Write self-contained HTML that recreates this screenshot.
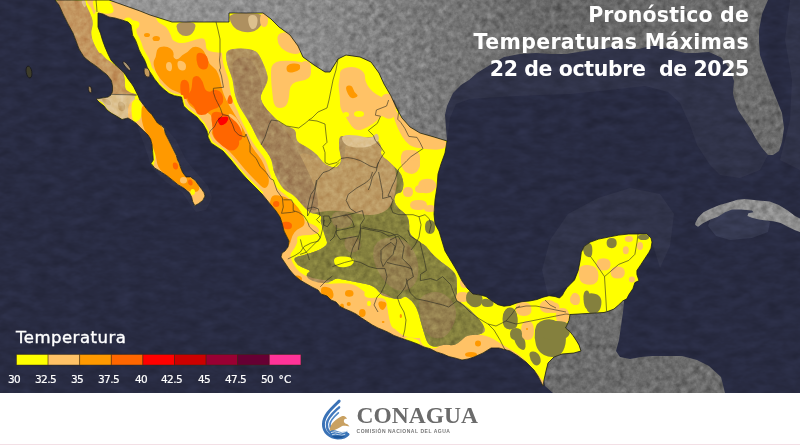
<!DOCTYPE html>
<html><head><meta charset="utf-8">
<style>
html,body{margin:0;padding:0;}
body{width:800px;height:445px;overflow:hidden;position:relative;background:#fff;font-family:"Liberation Sans",sans-serif;}
#map{position:absolute;left:0;top:0;width:800px;height:393px;display:block;}
.t{position:absolute;right:51px;color:#fff;font-family:"DejaVu Sans",sans-serif;font-weight:bold;font-size:20.5px;line-height:24px;white-space:pre;text-align:right;}
.leg-t{position:absolute;left:16px;top:328.4px;color:#fff;font-family:"DejaVu Sans",sans-serif;font-size:16.5px;line-height:19px;letter-spacing:0.5px;white-space:pre;-webkit-text-stroke:0.4px #fff;}
.lab{position:absolute;top:372.5px;color:#fff;font-family:"DejaVu Sans",sans-serif;font-size:10.5px;line-height:12px;letter-spacing:-0.6px;white-space:pre;-webkit-text-stroke:0.2px #fff;}
#foot{position:absolute;left:0;top:393px;width:800px;height:52px;background:#fff;}
#pink{position:absolute;left:0;top:444px;width:800px;height:1px;background:#f3dfe5;}
.cona{position:absolute;left:356.5px;top:401.5px;color:#6b6b6b;font-family:"Liberation Serif",serif;font-weight:bold;font-size:23.5px;letter-spacing:0px;white-space:pre;}
#logo{position:absolute;left:318px;top:398px;width:35px;height:44px;}
.com{position:absolute;left:356.5px;top:428px;color:#777;font-family:"Liberation Sans",sans-serif;font-weight:bold;font-size:5px;letter-spacing:0.53px;white-space:pre;}
</style></head><body>
<svg id="map" width="800" height="393" viewBox="0 0 800 393">
<defs>
<clipPath id="mx"><path id="mxp" d="M55,0 L109,0 L140,11 L150,15 L172,22 L229,22 L229,13 L263,13 L271,19 L279,27 L290,35 L298,46 L303,57 L314,65 L325,72 L330,72 L338,59 L346,55 L360,57 L371,62 L379,73 L384,84 L391,96 L396,107 L402,118 L410,127 L420,133 L434,137 L447,141 L445,153 L441,164 L438,174 L437,187 L435,200 L434,214 L435,224 L439,231 L442,241 L445,251 L451,261 L457,271 L462,281 L467,288 L473,294 L480,295 L486,296.5 L492,301 L498,304.7 L504,306.2 L510,305.5 L516,303.2 L522,301.7 L529.5,301 L537,299.5 L543,297.2 L549,295.7 L555,296.5 L559.5,298 L562.5,295 L564,292 L567,287.5 L570,284.5 L574.5,280 L578.2,270.5 L580.2,260.4 L581.3,252.3 L584.3,246.2 L590.4,242.1 L598.5,239.1 L608.6,237.1 L618.7,235.1 L628.8,234 L639,234 L647,234 L651,238.1 L652,242.1 L651,248.2 L649,252.3 L645,258.3 L641,264.4 L636.9,270.5 L636.9,274.5 L639,280.6 L634.9,282.6 L632.9,288.7 L628.8,294.8 L626.8,298.8 L622.8,300.9 L618.7,304.9 L614,309 L609,311 L604,312.5 L570,314.5 L569,320.5 L567,325 L565.5,328 L570,331.7 L573,335.5 L576,340 L579,345 L581,351 L574,353 L562,354 L554,357 L548,363 L546,371 L544,380 L543,386 L538,376 L534,370 L526,362 L518,356 L510,351 L499,348 L491,348 L483,353 L474,357 L468,359 L462,360 L455,358 L449,356.6 L443,354 L436.6,352 L430,348.7 L424,347 L417.7,344 L411,341.5 L405,339.5 L399.4,337.5 L394,335.5 L388.6,332.5 L383,330 L378,328 L372.4,325 L367,321.5 L361.6,318 L356,314 L351,311.5 L345,309 L340,306.5 L336,302 L331,300 L327,296 L321,294 L318,290 L312,287 L305,283 L300,280 L294,275 L289,269 L285,263 L281,257 L282,253 L285,251 L288,247 L289,241 L287,237 L284,231 L282,223 L280,217 L276,211 L271,205 L262,194 L254,186 L246,178 L239,170 L231,160 L223,151 L211,143 L208,137 L207,131 L203,124 L199.4,120 L197.2,117.2 L192.7,113.8 L188.2,110.4 L183.7,106 L182.6,101.5 L181.5,97 L174.7,95.8 L169.1,93.6 L163.5,89.1 L159,84.6 L154.5,79 L151,73.4 L148,70 L146.2,64.1 L144.4,59.6 L141.7,55.2 L139,49.8 L137.2,44.4 L135.4,39.9 L132.7,35.4 L131.8,30 L131,25 L128,22 L122,20 L115,18 L109,17 L103,14 L98,13 L98,20 L98,27 L100.6,33.7 L102.6,40.5 L105,47 L108,54 L111,60 L115,64.6 L120,69 L123.7,72.5 L126,75.8 L128.2,79.2 L131.6,83.7 L133.8,87 L136,91.6 L138.3,96 L139.8,100 L143.9,105.4 L148,110.8 L152,114.8 L154.7,118.9 L157.4,123 L161.4,125.6 L164.1,128.3 L165.4,133.7 L168.1,139.1 L170.8,144.5 L173.5,149.9 L176.2,155.3 L177.6,160 L179.2,163 L180.3,166.7 L182.6,172.4 L186,176.9 L190.4,176.9 L195,180.2 L198.3,184.7 L201.7,189.2 L204,192.6 L205,196 L202.8,200.4 L198.3,203.8 L195,205.5 L194.4,205 L192.7,201.6 L191.6,197.1 L189.3,192.6 L183.7,188 L178,184.7 L172.5,180.2 L166.9,175.7 L160,171.2 L154.5,167.9 L151.1,163.4 L153.3,160 L152.6,151.2 L152,144.5 L150.6,139.1 L148,135 L143.9,131 L139.8,127 L135.8,122.9 L131.7,120.2 L128,118 L122,119.5 L118,117 L111,113 L107,110 L104,106 L99,102 L96,99 L102,98 L108,97 L111,95 L112.5,91.6 L112.5,86 L111.3,80.3 L106.9,74.7 L101.2,70.2 L95.6,65.7 L90,62 L84,57 L79,49 L76,41 L73,33 L68,24 L63,14 L59,5 Z"/></clipPath>
<clipPath id="terr"><path d="M226,55 Q226,50 233,49 Q240,48 248,49 Q256,50 259,55 Q262,60 264.5,66.5 Q267,73 267.5,76.5 Q268,80 266.5,83.5 Q265,87 262.5,91.5 Q260,96 261,99.5 Q262,103 264.5,106.5 Q267,110 270,113 Q273,116 275.5,118.5 Q278,121 281,123 Q284,125 288,126.5 Q292,128 294,129.4 Q296,130.8 296,136.2 Q296,141.6 301.5,144.3 Q307,147 312.4,151 Q317.8,155 320.4,159 Q323,163 325.8,164.4 Q328.6,165.9 332.6,167.2 Q336.7,168.6 339.4,164.6 Q342,160.5 340.5,155.2 Q339,150 339,143 Q339,136 342,136 Q345,136 353,137.5 Q361,139 367.7,137.5 Q374.4,136 378.4,141.5 Q382.5,147 381.2,151 Q380,155 384,157.8 Q388,160.5 392,164.6 Q396,168.6 398.7,171.3 Q401.4,174 402.7,179.4 Q404,184.8 402.7,188.9 Q401.4,192.9 398.7,192.9 Q396,192.9 394.6,196.9 Q393.3,201 396,205 Q398.7,209 402.8,211.7 Q406.8,214.4 408.1,218.4 Q409.5,222.5 409.2,227.8 Q409,233 412,236 Q415,239 418,241 Q421,243 423.7,244.6 Q426.4,246.2 428.4,249.2 Q430.5,252.3 433.6,255.3 Q436.6,258.3 440.6,261.4 Q444.7,264.4 448.8,267.4 Q452.8,270.5 454.8,273.6 Q456.8,276.6 456.8,281.6 Q456.8,286.7 456.8,291.8 Q456.8,296.8 458.9,299.9 Q460.9,302.9 463.9,304.9 Q466.9,307 468.9,309 Q471,311 474,314 Q477,317 480,320.5 Q483,324 484.5,328 Q486,332 482,333.5 Q478,335 472.5,335 Q467,335 464.5,337.5 Q462,340 458,343 Q454,346 449.5,345 Q445,344 440,345.8 Q435,347.5 431.2,345.8 Q427.5,344 425.8,338.5 Q424,333 422,326 Q420,319 418.5,313.5 Q417,308 414,304 Q411,300 408,298 Q405,296 403,297.5 Q401,299 398,299 Q395,299 391,298 Q387,297 384,296 Q381,295 379,292 Q377,289 374,287 Q371,285 365.9,284 Q360.7,283 355.6,282 Q350.6,281 345.6,280 Q340.5,279 338.2,278.5 Q336,278 332.5,280.5 Q329,283 323.5,283 Q318,283 313,281 Q308,279 307,276.5 Q306,274 308.5,272.5 Q311,271 308.5,270 Q306,269 301.5,267 Q297,265 295.2,261.5 Q293.4,258 296.1,257.2 Q298.8,256.4 302.4,255.5 Q306,254.6 311.4,252.8 Q316.8,251 320.4,249.2 Q324,247.4 325.8,245.6 Q327.6,243.8 326.7,241.1 Q325.8,238.4 324.9,235.7 Q324,233 323,229.4 Q322,225.8 321.2,223.1 Q320.4,220.4 321.2,218.6 Q322,216.7 319.5,215.1 Q317,213.6 314,213.6 Q311,213.6 308.5,211.3 Q306,209 303.7,206.5 Q301.4,204 299.0,200.9 Q296.7,197.9 293.5,195.4 Q290.4,193 287.2,191.5 Q284,190 281,185.5 Q278,181 275.5,175.5 Q273,170 272.5,165 Q272,160 269.5,156 Q267,152 264.5,149 Q262,146 259.5,142 Q257,138 255,133.5 Q253,129 250.5,124.5 Q248,120 245,115.5 Q242,111 239.5,106.5 Q237,102 235.5,96.5 Q234,91 233.5,85.5 Q233,80 231,75 Q229,70 227.5,65 Q226,60 226,55 Z"/></clipPath>
<clipPath id="tex2"><path d="M226,55 Q226,50 233,49 Q240,48 248,49 Q256,50 259,55 Q262,60 264.5,66.5 Q267,73 267.5,76.5 Q268,80 266.5,83.5 Q265,87 262.5,91.5 Q260,96 261,99.5 Q262,103 264.5,106.5 Q267,110 270,113 Q273,116 275.5,118.5 Q278,121 281,123 Q284,125 288,126.5 Q292,128 294,129.4 Q296,130.8 296,136.2 Q296,141.6 301.5,144.3 Q307,147 312.4,151 Q317.8,155 320.4,159 Q323,163 325.8,164.4 Q328.6,165.9 332.6,167.2 Q336.7,168.6 339.4,164.6 Q342,160.5 340.5,155.2 Q339,150 339,143 Q339,136 342,136 Q345,136 353,137.5 Q361,139 367.7,137.5 Q374.4,136 378.4,141.5 Q382.5,147 381.2,151 Q380,155 384,157.8 Q388,160.5 392,164.6 Q396,168.6 398.7,171.3 Q401.4,174 402.7,179.4 Q404,184.8 402.7,188.9 Q401.4,192.9 398.7,192.9 Q396,192.9 394.6,196.9 Q393.3,201 396,205 Q398.7,209 402.8,211.7 Q406.8,214.4 408.1,218.4 Q409.5,222.5 409.2,227.8 Q409,233 412,236 Q415,239 418,241 Q421,243 423.7,244.6 Q426.4,246.2 428.4,249.2 Q430.5,252.3 433.6,255.3 Q436.6,258.3 440.6,261.4 Q444.7,264.4 448.8,267.4 Q452.8,270.5 454.8,273.6 Q456.8,276.6 456.8,281.6 Q456.8,286.7 456.8,291.8 Q456.8,296.8 458.9,299.9 Q460.9,302.9 463.9,304.9 Q466.9,307 468.9,309 Q471,311 474,314 Q477,317 480,320.5 Q483,324 484.5,328 Q486,332 482,333.5 Q478,335 472.5,335 Q467,335 464.5,337.5 Q462,340 458,343 Q454,346 449.5,345 Q445,344 440,345.8 Q435,347.5 431.2,345.8 Q427.5,344 425.8,338.5 Q424,333 422,326 Q420,319 418.5,313.5 Q417,308 414,304 Q411,300 408,298 Q405,296 403,297.5 Q401,299 398,299 Q395,299 391,298 Q387,297 384,296 Q381,295 379,292 Q377,289 374,287 Q371,285 365.9,284 Q360.7,283 355.6,282 Q350.6,281 345.6,280 Q340.5,279 338.2,278.5 Q336,278 332.5,280.5 Q329,283 323.5,283 Q318,283 313,281 Q308,279 307,276.5 Q306,274 308.5,272.5 Q311,271 308.5,270 Q306,269 301.5,267 Q297,265 295.2,261.5 Q293.4,258 296.1,257.2 Q298.8,256.4 302.4,255.5 Q306,254.6 311.4,252.8 Q316.8,251 320.4,249.2 Q324,247.4 325.8,245.6 Q327.6,243.8 326.7,241.1 Q325.8,238.4 324.9,235.7 Q324,233 323,229.4 Q322,225.8 321.2,223.1 Q320.4,220.4 321.2,218.6 Q322,216.7 319.5,215.1 Q317,213.6 314,213.6 Q311,213.6 308.5,211.3 Q306,209 303.7,206.5 Q301.4,204 299.0,200.9 Q296.7,197.9 293.5,195.4 Q290.4,193 287.2,191.5 Q284,190 281,185.5 Q278,181 275.5,175.5 Q273,170 272.5,165 Q272,160 269.5,156 Q267,152 264.5,149 Q262,146 259.5,142 Q257,138 255,133.5 Q253,129 250.5,124.5 Q248,120 245,115.5 Q242,111 239.5,106.5 Q237,102 235.5,96.5 Q234,91 233.5,85.5 Q233,80 231,75 Q229,70 227.5,65 Q226,60 226,55 Z"/><path d="M40,0 L84,0 L86,5 L89,11 L92,18 L93,24 L91,32 L92,39 L95,46 L99,53 L101,53 L106,59 L111,62 L117,67 L123,71 L124,76 L125,80 L125,87 L126,90 L131,93 L136,94 L136,96 L40,96 Z"/><path d="M90,94 L136,94 L134,100 L133,108 L131,118 L126,121 L115,115 L106,108 L103,102 L95,99 Z"/></clipPath>
<clipPath id="gland"><path d="M109,0 L140,11 L150,15 L172,22 L229,22 L229,13 L263,13 L271,19 L279,27 L290,35 L298,46 L303,57 L314,65 L325,72 L330,72 L338,59 L346,55 L360,57 L371,62 L379,73 L384,84 L391,96 L396,107 L402,118 L410,127 L420,133 L434,137 L447,141 L446,128 L445,115 L447,106 L453,93 L461,85 L469,80 L477,73 L490,65 L504,57 L520,54 L536,53 L552,54 L566,54 L585,51 L601,49 L612,47 L625,49 L639,49 L650,46 L658,46 L673,50 L685,53 L695,53 L709,52 L721,57.5 L730,69 L734,81 L733,93 L734,98 L738,110 L744,119 L750,128 L756,139 L762,148 L768,155 L773,155 L779,151 L782,142 L784,128 L782,113 L776,98 L770.5,84 L765,69 L760,55 L759,42 L759,30 L762,14 L768,0 Z"/><path d="M695.3,223.1 L698,217.7 L703.4,212.3 L710.5,208.7 L719.5,205.1 L728.5,202.5 L737.5,199.8 L744.7,198.9 L751.9,199.8 L760.8,200.7 L769.8,201.6 L778.8,205.1 L787.8,210.5 L795,216 L800,218.6 L800,232 L795,230.3 L787.8,226.7 L780.6,223.1 L773.4,221.3 L766.2,220.4 L759,219.5 L751.9,217.7 L747.4,215.9 L748.3,213.2 L753.6,212.3 L751.9,210.5 L741,209.6 L732,209.6 L725,212.3 L717.7,216.8 L710.5,219.5 L703.4,223.1 L698,226.7 L695.3,224.9 Z"/><path d="M604,312.5 L609,311 L614,309 L618.7,304.9 L622.8,300.9 L624,301 L623,312 L621,326 L619,340 L616,351 L620,357 L630,359 L641,357 L652,356 L660,356 L682,356 L697,360 L709,366 L721,377 L725,393 L553,393 L545,386 L544,380 L546,371 L548,363 L554,357 L562,354 L574,353 L581,351 L579,344 L576,340 L573,335.5 L570,331.7 L565.5,328 L567,325 L569,320.5 L570,314.5 Z"/></clipPath>
<filter id="noise" x="0" y="0" width="800" height="393" filterUnits="userSpaceOnUse" color-interpolation-filters="sRGB">
<feTurbulence type="fractalNoise" baseFrequency="0.16" numOctaves="3" seed="7" result="t"/>
<feColorMatrix in="t" type="matrix" values="0.33 0.33 0.33 0 0  0.33 0.33 0.33 0 0  0.33 0.33 0.33 0 0  0 0 0 0 1"/>
</filter>
<filter id="noise2" x="0" y="0" width="800" height="393" filterUnits="userSpaceOnUse" color-interpolation-filters="sRGB">
<feTurbulence type="fractalNoise" baseFrequency="0.06 0.12" numOctaves="3" seed="11" result="t"/>
<feColorMatrix in="t" type="matrix" values="0.33 0.33 0.33 0 0  0.33 0.33 0.33 0 0  0.33 0.33 0.33 0 0  0 0 0 0 1"/>
</filter>
</defs>
<rect x="0" y="0" width="800" height="393" fill="#282b42"/>

<g fill="#303349">
<path d="M447,141 L446,128 L445,115 L447,106 L453,93 L461,85 L469,80 L477,73 L490,65 L504,57 L520,54 L536,53 L552,54 L566,54 L585,51 L601,49 L612,47 L625,49 L639,49 L650,46 L658,46 L673,50 L685,53 L695,53 L709,52 L721,58 L730,69 L734,81 L733,93 L734,98 L738,110 L744,119 L750,128 L756,139 L762,148 L768,155 L760,170 L740,178 L720,175 L710,165 L697,145 L690,125 L680,103 L668,92 L645,86 L610,90 L570,94 L540,95 L500,97 L470,99 L456,104 L450,118 Z"/>
<path d="M548,296 L542,270 L550,240 L568,214 L598,198 L630,188 L660,194 L674,214 L670,246 L660,268 L652,242 L647,234 L620,235 L590,242 L581,252 L578,270 L570,285 Z"/>
<path d="M780,160 L790,120 L792,80 L785,40 L790,0 L800,0 L800,170 Z"/>
</g>
<path fill="#2e3148" d="M138,128 L146,150 L152,168 L166,182 L182,192 L190,204 L196,212 L206,210 L212,198 L208,186 L196,172 L186,160 L176,140 L164,126 L150,118 Z"/>
<path fill="#363a52" d="M712,214 L730,208 L750,209 L756,214 L770,222 L768,232 L752,238 L730,240 L716,236 L708,226 Z"/>

<rect x="0" y="0" width="800" height="393" filter="url(#noise2)" style="mix-blend-mode:overlay" opacity="0.3"/>
<linearGradient id="usg" x1="100" y1="0" x2="800" y2="0" gradientUnits="userSpaceOnUse"><stop offset="0" stop-color="#999999"/><stop offset="0.3" stop-color="#8a8a8a"/><stop offset="0.5" stop-color="#777777"/><stop offset="0.65" stop-color="#676767"/><stop offset="1" stop-color="#6c6c6c"/></linearGradient>
<path id="us" fill="url(#usg)" d="M109,0 L140,11 L150,15 L172,22 L229,22 L229,13 L263,13 L271,19 L279,27 L290,35 L298,46 L303,57 L314,65 L325,72 L330,72 L338,59 L346,55 L360,57 L371,62 L379,73 L384,84 L391,96 L396,107 L402,118 L410,127 L420,133 L434,137 L447,141 L446,128 L445,115 L447,106 L453,93 L461,85 L469,80 L477,73 L490,65 L504,57 L520,54 L536,53 L552,54 L566,54 L585,51 L601,49 L612,47 L625,49 L639,49 L650,46 L658,46 L673,50 L685,53 L695,53 L709,52 L721,57.5 L730,69 L734,81 L733,93 L734,98 L738,110 L744,119 L750,128 L756,139 L762,148 L768,155 L773,155 L779,151 L782,142 L784,128 L782,113 L776,98 L770.5,84 L765,69 L760,55 L759,42 L759,30 L762,14 L768,0 Z"/>
<path fill="#8e8e8e" d="M695.3,223.1 L698,217.7 L703.4,212.3 L710.5,208.7 L719.5,205.1 L728.5,202.5 L737.5,199.8 L744.7,198.9 L751.9,199.8 L760.8,200.7 L769.8,201.6 L778.8,205.1 L787.8,210.5 L795,216 L800,218.6 L800,232 L795,230.3 L787.8,226.7 L780.6,223.1 L773.4,221.3 L766.2,220.4 L759,219.5 L751.9,217.7 L747.4,215.9 L748.3,213.2 L753.6,212.3 L751.9,210.5 L741,209.6 L732,209.6 L725,212.3 L717.7,216.8 L710.5,219.5 L703.4,223.1 L698,226.7 L695.3,224.9 Z"/>
<path fill="#6c6c6c" d="M604,312.5 L609,311 L614,309 L618.7,304.9 L622.8,300.9 L624,301 L623,312 L621,326 L619,340 L616,351 L620,357 L630,359 L641,357 L652,356 L660,356 L682,356 L697,360 L709,366 L721,377 L725,393 L553,393 L545,386 L544,380 L546,371 L548,363 L554,357 L562,354 L574,353 L581,351 L579,344 L576,340 L573,335.5 L570,331.7 L565.5,328 L567,325 L569,320.5 L570,314.5 Z"/>

<rect x="0" y="0" width="800" height="393" filter="url(#noise)" clip-path="url(#gland)" style="mix-blend-mode:overlay" opacity="0.55"/>
<use href="#mxp" fill="#ffff00"/>
<g clip-path="url(#mx)">
<path fill="#c39660" d="M40,48 Q40,0 62,0 Q84,0 85,2.5 Q86,5 87.5,8 Q89,11 90.5,14.5 Q92,18 92.5,21 Q93,24 92,28 Q91,32 91.5,35.5 Q92,39 93.5,42.5 Q95,46 97,49.5 Q99,53 100,53 Q101,53 103.5,56 Q106,59 108.5,60.5 Q111,62 114,64.5 Q117,67 120,69 Q123,71 123.5,73.5 Q124,76 124.5,78 Q125,80 125,83.5 Q125,87 125.5,88.5 Q126,90 128.5,91.5 Q131,93 133.5,93.5 Q136,94 136,95 Q136,96 88,96 Q40,96 40,48 Z"/>
<path fill="#dcc08e" d="M82,3 Q81,0 83.5,0 Q86,0 86,4 Q86,8 84.5,7 Q83,6 82,3 Z"/>
<path fill="#ffc266" d="M87,2 Q86,0 92,0 Q98,0 97.5,4 Q97,8 95.5,12 Q94,16 93,12.5 Q92,9 90,6.5 Q88,4 87,2 Z"/>
<path fill="#ffff00" d="M93.5,6 Q92,0 94.5,0 Q97,0 97.5,4 Q98,8 96.5,10 Q95,12 93.5,6 Z"/>
<path fill="#dcc08e" d="M92.5,96.5 Q90,94 113,94 Q136,94 135,97 Q134,100 133.5,104 Q133,108 132.5,110.5 Q132,113 131.5,115.5 Q131,118 128.5,119.5 Q126,121 123,119.5 Q120,118 117.5,116.5 Q115,115 112.5,113.5 Q110,112 108,110 Q106,108 104.5,105 Q103,102 99,100.5 Q95,99 92.5,96.5 Z"/>
<path fill="#c8a874" d="M104,102.5 Q100,99 104,98.5 Q108,98 110,101 Q112,104 110,105 Q108,106 104,102.5 Z"/>
<path fill="#c8a874" d="M118,105 Q118,100 122,102 Q126,104 125,108 Q124,112 121,111 Q118,110 118,105 Z"/>
<path fill="#ffc266" d="M128,112.5 Q128,100 136.5,99 Q145,98 152.5,106.5 Q160,115 167.5,125 Q175,135 180,147.5 Q185,160 190,167.5 Q195,175 202.5,182.5 Q210,190 210,200 Q210,210 197.5,210 Q185,210 175,197.5 Q165,185 155,177.5 Q145,170 145,155 Q145,140 136.5,132.5 Q128,125 128,112.5 Z"/>
<path fill="#ffff00" d="M131.5,111 Q131,100 135.5,99.5 Q140,99 141,102.5 Q142,106 142,111 Q142,116 140,119 Q138,122 135,122 Q132,122 131.5,111 Z"/>
<path fill="#ffff00" d="M150.5,145 Q150,138 152,139 Q154,140 155,145 Q156,150 155.5,155 Q155,160 154,164 Q153,168 151,166 Q149,164 150,158 Q151,152 150.5,145 Z"/>
<path fill="#ff9900" d="M141.5,110 Q142,104 146,106 Q150,108 152.5,112 Q155,116 157.5,120 Q160,124 162,127 Q164,130 165.5,134 Q167,138 169,142 Q171,146 173,150 Q175,154 176.5,158 Q178,162 180,166 Q182,170 185,173 Q188,176 191.5,178.5 Q195,181 197.5,184 Q200,187 199,189.5 Q198,192 194,192 Q190,192 187,190 Q184,188 181,186 Q178,184 175,182 Q172,180 169,177.5 Q166,175 163,172.5 Q160,170 158.5,167 Q157,164 156.5,160 Q156,156 154.5,152 Q153,148 151.5,144 Q150,140 148,136.5 Q146,133 144.5,129.5 Q143,126 142,121 Q141,116 141.5,110 Z"/>
<path fill="#ff6600" d="M172.8,165.5 Q172.5,162 175.2,162.5 Q178,163 178,166.5 Q178,170 175.5,169.5 Q173,169 172.8,165.5 Z"/>
<path fill="#ff6600" d="M188,182 Q188,179 190.3,179.5 Q192.7,180 192.7,183 Q192.7,186 190.3,185.5 Q188,185 188,182 Z"/>
<path fill="#ffc266" d="M180,180.3 Q180,177 183.5,177 Q187,177 187,180.3 Q187,183.6 183.5,183.6 Q180,183.6 180,180.3 Z"/>
<path fill="#ffff00" d="M190.4,192 Q190.4,189 192.7,189 Q195,189 195,192 Q195,195 192.7,195 Q190.4,195 190.4,192 Z"/>
<path fill="#ffc266" d="M99,13 Q98,12 99,6 Q100,0 159,0 Q218,0 218,11 Q218,22 220,31 Q222,40 222,50 Q222,60 224,66 Q226,72 227.5,76 Q229,80 229.5,85.5 Q230,91 231.5,96.5 Q233,102 235.5,106.5 Q238,111 239.5,115.5 Q241,120 243.5,124.5 Q246,129 248,133.5 Q250,138 252.5,142 Q255,146 257.5,149 Q260,152 263,156 Q266,160 267.5,165 Q269,170 270.8,175.5 Q272.6,181 275.3,185.5 Q278,190 281.9,192.3 Q285.7,194.7 289.6,198.6 Q293.6,202.6 296.8,206.5 Q300,210.4 302.3,214.4 Q304.6,218.3 305.3,219.9 Q306,221.4 307.5,222.2 Q309,223 313,224.5 Q317,226 318.5,228.5 Q320,231 318.5,232.5 Q317,234 313,234.8 Q309,235.6 305.2,235.6 Q301.4,235.6 299.0,236.3 Q296.7,237 297.5,239.5 Q298.3,242 296.0,245.8 Q293.6,249.7 291.3,252.8 Q289,256 293.5,264 Q298,272 305,275.5 Q312,279 319.4,281.8 Q326.8,284.5 333.9,283.6 Q341,282.7 348.2,283.6 Q355.5,284.5 360.8,289 Q366,293.5 371,295.8 Q376,298 381,298 Q386,298 387,305 Q388,312 390,319 Q392,326 396,330 Q400,334 405,336 Q410,338 415,338 Q420,338 425.5,337.5 Q431,337 435.5,336.9 Q440,336.7 451.5,334.9 Q463,333 474.9,333.9 Q486.7,334.8 493.4,338.9 Q500,343 504,345.5 Q508,348 513,351 Q518,354 522.5,358 Q527,362 531.5,367 Q536,372 539,376 Q542,380 543.5,381.5 Q545,383 545,391.5 Q545,400 402.5,400 Q260,400 250,330 Q240,260 238,237.5 Q236,215 233.5,202.5 Q231,190 218.5,175 Q206,160 196,145 Q186,130 174.5,115 Q163,100 149.5,85 Q136,70 130,55 Q124,40 112,27 Q100,14 99,13 Z"/>
<path fill="#ffff00" d="M129,25 Q128,20 134,20.5 Q140,21 139.5,24.5 Q139,28 136.5,29 Q134,30 137,36 Q140,42 142,47 Q144,52 146,57 Q148,62 150,66 Q152,70 149.5,71 Q147,72 144.5,67 Q142,62 140,57 Q138,52 136,46 Q134,40 132,35 Q130,30 129,25 Z"/>
<path fill="#ffff00" d="M156.2,18.2 Q155,14 192.5,14 Q230,14 230,33.5 Q230,53 225.5,53 Q221,53 213.5,52 Q206,51 206,46.8 Q206,42.5 204.9,40 Q203.8,37.5 198.8,38.8 Q193.8,40 188.1,41.9 Q182.5,43.8 177.5,42.4 Q172.5,41 171.8,38 Q171,35 168.5,30.5 Q166,26 161.8,24.2 Q157.5,22.5 156.2,18.2 Z"/>
<path fill="#ffff00" d="M96,6 Q94,0 101,0 Q108,0 110.5,3 Q113,6 113.5,9.5 Q114,13 110,13.5 Q106,14 102,13 Q98,12 96,6 Z"/>
<path fill="#ae9060" d="M229.5,17.5 Q229,13 246,13 Q263,13 263,17.5 Q263,22 260.5,26 Q258,30 253,31.5 Q248,33 242,31.5 Q236,30 233,26 Q230,22 229.5,17.5 Z"/>
<path fill="#dcc08e" d="M248.5,22.5 Q247,15 252.5,15 Q258,15 257.5,21.5 Q257,28 253.5,29 Q250,30 248.5,22.5 Z"/>
<path fill="#ff9900" d="M152.5,38.5 Q152.5,36 156.2,36 Q160,36 160,38.5 Q160,41 156.2,41 Q152.5,41 152.5,38.5 Z"/>
<path fill="#ae9060" d="M176.5,26.5 Q176,22 186,22 Q196,22 195.5,26 Q195,30 192.5,33 Q190,36 186,36 Q182,36 179.5,33.5 Q177,31 176.5,26.5 Z"/>
<path fill="#ff9900" d="M156.5,52.5 Q157,48 160.5,47 Q164,46 167.5,47 Q171,48 172.5,50.5 Q174,53 173.5,55.5 Q173,58 175.5,59 Q178,60 180,57.5 Q182,55 185,53.5 Q188,52 190.5,49 Q193,46 197.5,47 Q202,48 204,51.5 Q206,55 207.5,59.5 Q209,64 212.5,66.5 Q216,69 218,73.5 Q220,78 221,84 Q222,90 224,95 Q226,100 229,105 Q232,110 235,115 Q238,120 241,125 Q244,130 246,135 Q248,140 251,145 Q254,150 258,155 Q262,160 264,165 Q266,170 268,176 Q270,182 267.5,186 Q265,190 261,186 Q257,182 253,178 Q249,174 245.5,170 Q242,166 238,161 Q234,156 230,152 Q226,148 220.5,144 Q215,140 213.5,137 Q212,134 211,131 Q210,128 208,124.5 Q206,121 204,119 Q202,117 199,113.5 Q196,110 193,108 Q190,106 188.5,103.5 Q187,101 186,98.5 Q185,96 181.5,94 Q178,92 175,91 Q172,90 169.5,88 Q167,86 165,84 Q163,82 160.5,79 Q158,76 156.5,73 Q155,70 154,66 Q153,62 154.5,59.5 Q156,57 156.5,52.5 Z"/>
<path fill="#ffc266" d="M177.5,65 Q177,60 181.5,61 Q186,62 186,66.5 Q186,71 182,70.5 Q178,70 177.5,65 Z"/>
<path fill="#ffc266" d="M166,66 Q166,62 169,62 Q172,62 172,67 Q172,72 169,71 Q166,70 166,66 Z"/>
<path fill="#ffc266" d="M199.5,123 Q196,112 204,112 Q212,112 213,123 Q214,134 208.5,134 Q203,134 199.5,123 Z"/>
<path fill="#ffc266" d="M231,123 Q226,112 231,114 Q236,116 240,124 Q244,132 240,133 Q236,134 231,123 Z"/>
<path fill="#ff6600" d="M196.5,56 Q197,52 201.5,53 Q206,54 207.5,58 Q209,62 208,66 Q207,70 203,69.5 Q199,69 197.5,64.5 Q196,60 196.5,56 Z"/>
<path fill="#ff6600" d="M180.3,89.2 Q179.6,79.5 184.6,79.8 Q189.5,80 189.5,89.5 Q189.5,99 185.2,99 Q181,99 180.3,89.2 Z"/>
<path fill="#ff6600" d="M192.4,80.1 Q192.7,76.7 195.5,76.2 Q198.3,75.6 200.6,78.4 Q202.8,81.2 203.9,85.7 Q205,90.2 207.5,91.3 Q210,92.5 212,90.8 Q214,89 218,90.5 Q222,92 223,97 Q224,102 221,105 Q218,108 214,109 Q210,110 208,112.5 Q206,115 201.5,115 Q197,115 196,111 Q195,107 191.5,104.2 Q188,101.5 187.5,98.7 Q187,95.8 189.3,93 Q191.6,90.2 191.8,86.8 Q192.1,83.5 192.4,80.1 Z"/>
<path fill="#ff6600" d="M211.4,115.8 Q211.8,111.7 216.9,111.8 Q222,112 227,115 Q232,118 236,122 Q240,126 242,133 Q244,140 238,141 Q232,142 227,141 Q222,140 218,136 Q214,132 212.5,126 Q211,120 211.4,115.8 Z"/>
<path fill="#ff6600" d="M212.5,126 Q213,116 221.5,119 Q230,122 234,128 Q238,134 239,140 Q240,146 236,149 Q232,152 227,149 Q222,146 217,141 Q212,136 212.5,126 Z"/>
<path fill="#ff6600" d="M228,98 Q230,92 232,98 Q234,104 230,104 Q226,104 228,98 Z"/>
<path fill="#ff0000" d="M218.3,122.2 Q216.7,118 220.3,117.3 Q224,116.6 226.5,116.8 Q229,117 228,120 Q227,123 223.5,124.8 Q220,126.5 218.3,122.2 Z"/>
<path fill="#ff9900" d="M144,35 Q144,33 147,33 Q150,33 150,35 Q150,37 147,37 Q144,37 144,35 Z"/>
<path fill="#ff9900" d="M153,39 Q153,37 156,37.5 Q159,38 159,39.5 Q159,41 156,41 Q153,41 153,39 Z"/>
<path fill="#ff9900" d="M270,204.8 Q270,196 274.7,195.3 Q279.4,194.7 284.9,197.1 Q290.4,199.4 294.4,203.4 Q298.3,207.3 301.5,212.8 Q304.6,218.3 304.6,222.2 Q304.6,226 300.6,227.7 Q296.7,229.3 294.4,232.4 Q292,235.6 291.2,239.6 Q290.4,243.5 288.9,245.8 Q287.3,248 285.0,245 Q282.6,242 281,237.2 Q279.4,232.4 277.0,226.9 Q274.7,221.4 272.4,217.5 Q270,213.6 270,204.8 Z"/>
<path fill="#ff6600" d="M282,225.2 Q281,221.4 286.5,221.7 Q292,222 292,225.7 Q292,229.3 287.5,229.2 Q283,229 282,225.2 Z"/>
<path fill="#ff6600" d="M273,204 Q273,201 276.2,201 Q279.4,201 279.4,204 Q279.4,207 276.2,207 Q273,207 273,204 Z"/>
<path fill="#ffff00" d="M317,225.5 Q309,223 313,224.5 Q317,226 318.5,228.5 Q320,231 318.5,232.5 Q317,234 313,234.8 Q309,235.6 305.2,235.6 Q301.4,235.6 299.0,236.3 Q296.7,237 297.5,239.5 Q298.3,242 296.0,245.8 Q293.6,249.7 296.8,249.8 Q300,250 305,248 Q310,246 315,244.5 Q320,243 324,242.5 Q328,242 326.5,235 Q325,228 317,225.5 Z"/>
<path fill="#ff9900" d="M345,293.4 Q345,290 349.2,290 Q353.5,290 353.5,293.4 Q353.5,296.7 349.2,296.7 Q345,296.7 345,293.4 Z"/>
<path fill="#ff9900" d="M340,306.2 Q340,303.5 342,303.5 Q344,303.5 344,306.2 Q344,309 342,309 Q340,309 340,306.2 Z"/>
<path fill="#ff9900" d="M346.7,304 Q346.7,302 348.8,302 Q350.8,302 350.8,304 Q350.8,306 348.8,306 Q346.7,306 346.7,304 Z"/>
<path fill="#ff9900" d="M359,313 Q359,309 362.3,309 Q365.6,309 365.6,313 Q365.6,317 362.3,317 Q359,317 359,313 Z"/>
<path fill="#ff9900" d="M379.2,306.9 Q376.4,300.8 382.5,301.4 Q388.6,302 385.3,307.5 Q382,313 379.2,306.9 Z"/>
<path fill="#ff9900" d="M381.8,322 Q381.8,321 383.1,321 Q384.5,321 384.5,322 Q384.5,323 383.1,323 Q381.8,323 381.8,322 Z"/>
<path fill="#ff9900" d="M399.4,316 Q399.4,314 400.7,314 Q402,314 402,316 Q402,318 400.7,318 Q399.4,318 399.4,316 Z"/>
<path fill="#ff9900" d="M321,292 Q320,286 326.5,287 Q333,288 333.5,294 Q334,300 328,299 Q322,298 321,292 Z"/>
<path fill="#ff9900" d="M294,278 Q294,275 298,275.5 Q302,276 302,279 Q302,282 298,281.5 Q294,281 294,278 Z"/>
<path fill="#ff9900" d="M465,354.5 Q465,352 471,352 Q477,352 477,354.5 Q477,357 471,357 Q465,357 465,354.5 Z"/>
<path fill="#ff9900" d="M475,343.5 Q475,340.6 478,340.6 Q481,340.6 481,343.5 Q481,346.4 478,346.4 Q475,346.4 475,343.5 Z"/>
<path fill="#ffff00" d="M364.3,294 Q364.3,290 371.1,290 Q377.8,290 377.8,294 Q377.8,298 371.1,298 Q364.3,298 364.3,294 Z"/>
<path fill="#ffff00" d="M367,303.4 Q367,300.8 369,300.8 Q371,300.8 371,303.4 Q371,306 369,306 Q367,306 367,303.4 Z"/>
<path fill="#ffff00" d="M388,311.5 Q386,297 392.7,297 Q399.4,297 399.7,308.5 Q400,320 398,325 Q396,330 393,328 Q390,326 388,311.5 Z"/>
<path fill="#ffff00" d="M401,312 Q398,301 409,301 Q420,301 420,312 Q420,323 412,323 Q404,323 401,312 Z"/>
<path fill="#ffff00" d="M404.8,339 Q404.8,336 412.4,338 Q420,340 420,343 Q420,346 412.4,344 Q404.8,342 404.8,339 Z"/>
<path fill="#ffff00" d="M420,338 Q420,330 430,332 Q440,334 440,342 Q440,350 430,348 Q420,346 420,338 Z"/>
<path fill="#ffc266" d="M260,20 Q260,13 264,13 Q268,13 268,20 Q268,27 264,27 Q260,27 260,20 Z"/>
<path fill="#ffc266" d="M277.5,39.5 Q277,33 283.5,32.5 Q290,32 295.5,36 Q301,40 301.5,47 Q302,54 296,54 Q290,54 284,50 Q278,46 277.5,39.5 Z"/>
<path fill="#ffc266" d="M271,71 Q271,62 280.5,61 Q290,60 300.5,62 Q311,64 311,72 Q311,80 300.5,81 Q290,82 289.5,91 Q289,100 287,104 Q285,108 279.5,108 Q274,108 273,99 Q272,90 271.5,85 Q271,80 271,71 Z"/>
<path fill="#ff9900" d="M286.5,69 Q286,64 293,63.5 Q300,63 300.5,66.5 Q301,70 294,72 Q287,74 286.5,69 Z"/>
<path fill="#ffc266" d="M300,69 Q300,61 305.5,61 Q311,61 311,69 Q311,77 305.5,77 Q300,77 300,69 Z"/>
<path fill="#ffc266" d="M340,73 Q340,69 347,67.5 Q354,66 359.5,69 Q365,72 365,77 Q365,82 369,87.5 Q373,93 379.5,96 Q386,99 390,101.5 Q394,104 395.5,109.5 Q397,115 393,117.5 Q389,120 385,117.5 Q381,115 379.5,117.5 Q378,120 372.5,124 Q367,128 362,129.5 Q357,131 354,128.5 Q351,126 348.5,121.5 Q346,117 343,113 Q340,109 340,102.5 Q340,96 339,90.5 Q338,85 339,81 Q340,77 340,73 Z"/>
<path fill="#ffff00" d="M354,114 Q354,111 359,111 Q364,111 364,114 Q364,117 359,117 Q354,117 354,114 Z"/>
<path fill="#ffff00" d="M343,114.5 Q343,112 346,112 Q349,112 349,114.5 Q349,117 346,117 Q343,117 343,114.5 Z"/>
<path fill="#ff9900" d="M346.5,90.5 Q345,86 348.5,85.5 Q352,85 353,88.5 Q354,92 356.5,94 Q359,96 355.5,97.5 Q352,99 350,97 Q348,95 346.5,90.5 Z"/>
<path fill="#ffc266" d="M392.5,107.5 Q392,100 394,106 Q396,112 399,115 Q402,118 406,122.5 Q410,127 415,130 Q420,133 427,135 Q434,137 440.5,139 Q447,141 446.5,144 Q446,147 443,148.5 Q440,150 432.5,149.5 Q425,149 418.5,148 Q412,147 408.5,144 Q405,141 402.5,137 Q400,133 398,128.5 Q396,124 394.5,119.5 Q393,115 392.5,107.5 Z"/>
<path fill="#ffc266" d="M401,156 Q402,150 407,150 Q412,150 416,153 Q420,156 420,162 Q420,168 417,171.5 Q414,175 409,173.5 Q404,172 402,167 Q400,162 401,156 Z"/>
<path fill="#ffc266" d="M418,186 Q418,180 425,179 Q432,178 435,182 Q438,186 434,190 Q430,194 424,193 Q418,192 418,186 Z"/>
<path fill="#ffc266" d="M424,208.5 Q424,205 430,205 Q436,205 436,208.5 Q436,212 430,212 Q424,212 424,208.5 Z"/>
<path fill="#ae9060" d="M226,55 Q226,50 233,49 Q240,48 248,49 Q256,50 259,55 Q262,60 264.5,66.5 Q267,73 267.5,76.5 Q268,80 266.5,83.5 Q265,87 262.5,91.5 Q260,96 261,99.5 Q262,103 264.5,106.5 Q267,110 270,113 Q273,116 275.5,118.5 Q278,121 281,123 Q284,125 288,126.5 Q292,128 294,129.4 Q296,130.8 296,136.2 Q296,141.6 301.5,144.3 Q307,147 312.4,151 Q317.8,155 320.4,159 Q323,163 325.8,164.4 Q328.6,165.9 332.6,167.2 Q336.7,168.6 339.4,164.6 Q342,160.5 340.5,155.2 Q339,150 339,143 Q339,136 342,136 Q345,136 353,137.5 Q361,139 367.7,137.5 Q374.4,136 378.4,141.5 Q382.5,147 381.2,151 Q380,155 384,157.8 Q388,160.5 392,164.6 Q396,168.6 398.7,171.3 Q401.4,174 402.7,179.4 Q404,184.8 402.7,188.9 Q401.4,192.9 398.7,192.9 Q396,192.9 394.6,196.9 Q393.3,201 396,205 Q398.7,209 402.8,211.7 Q406.8,214.4 408.1,218.4 Q409.5,222.5 409.2,227.8 Q409,233 412,236 Q415,239 418,241 Q421,243 423.7,244.6 Q426.4,246.2 428.4,249.2 Q430.5,252.3 433.6,255.3 Q436.6,258.3 440.6,261.4 Q444.7,264.4 448.8,267.4 Q452.8,270.5 454.8,273.6 Q456.8,276.6 456.8,281.6 Q456.8,286.7 456.8,291.8 Q456.8,296.8 458.9,299.9 Q460.9,302.9 463.9,304.9 Q466.9,307 468.9,309 Q471,311 474,314 Q477,317 480,320.5 Q483,324 484.5,328 Q486,332 482,333.5 Q478,335 472.5,335 Q467,335 464.5,337.5 Q462,340 458,343 Q454,346 449.5,345 Q445,344 440,345.8 Q435,347.5 431.2,345.8 Q427.5,344 425.8,338.5 Q424,333 422,326 Q420,319 418.5,313.5 Q417,308 414,304 Q411,300 408,298 Q405,296 403,297.5 Q401,299 398,299 Q395,299 391,298 Q387,297 384,296 Q381,295 379,292 Q377,289 374,287 Q371,285 365.9,284 Q360.7,283 355.6,282 Q350.6,281 345.6,280 Q340.5,279 338.2,278.5 Q336,278 332.5,280.5 Q329,283 323.5,283 Q318,283 313,281 Q308,279 307,276.5 Q306,274 308.5,272.5 Q311,271 308.5,270 Q306,269 301.5,267 Q297,265 295.2,261.5 Q293.4,258 296.1,257.2 Q298.8,256.4 302.4,255.5 Q306,254.6 311.4,252.8 Q316.8,251 320.4,249.2 Q324,247.4 325.8,245.6 Q327.6,243.8 326.7,241.1 Q325.8,238.4 324.9,235.7 Q324,233 323,229.4 Q322,225.8 321.2,223.1 Q320.4,220.4 321.2,218.6 Q322,216.7 319.5,215.1 Q317,213.6 314,213.6 Q311,213.6 308.5,211.3 Q306,209 303.7,206.5 Q301.4,204 299.0,200.9 Q296.7,197.9 293.5,195.4 Q290.4,193 287.2,191.5 Q284,190 281,185.5 Q278,181 275.5,175.5 Q273,170 272.5,165 Q272,160 269.5,156 Q267,152 264.5,149 Q262,146 259.5,142 Q257,138 255,133.5 Q253,129 250.5,124.5 Q248,120 245,115.5 Q242,111 239.5,106.5 Q237,102 235.5,96.5 Q234,91 233.5,85.5 Q233,80 231,75 Q229,70 227.5,65 Q226,60 226,55 Z"/>
<path fill="#bc9a64" d="M295,160 Q300,150 310,155 Q320,160 328,165 Q336,170 340.5,165 Q345,160 345,150 Q345,140 360,139 Q375,138 378.5,144 Q382,150 387,157.5 Q392,165 397,171.5 Q402,178 402,185 Q402,192 398,196 Q394,200 397,206 Q400,212 404,217 Q408,222 409,229 Q410,236 395,236 Q380,236 365,238 Q350,240 340,237.5 Q330,235 328,228.5 Q326,222 322,218 Q318,214 312,211 Q306,208 303,204 Q300,200 296,195 Q292,190 291,180 Q290,170 295,160 Z" clip-path="url(#terr)"/>
<path fill="#a3835a" d="M232.5,67.5 Q232,60 241,57.5 Q250,55 256,67.5 Q262,80 262,90 Q262,100 268.5,110 Q275,120 282.5,127.5 Q290,135 295,145 Q300,155 305,165 Q310,175 314,185 Q318,195 318,203.5 Q318,212 311.5,210 Q305,208 298.5,200.5 Q292,193 286,186.5 Q280,180 276,170 Q272,160 267,153 Q262,146 257,137 Q252,128 247.5,119 Q243,110 239.5,101 Q236,92 234.5,83.5 Q233,75 232.5,67.5 Z" clip-path="url(#terr)"/>
<path fill="#dcc08e" d="M342.5,140.5 Q340,135 349,135 Q358,135 364.5,137 Q371,139 374,135.5 Q377,132 378.5,136 Q380,140 376,143 Q372,146 366,147 Q360,148 352.5,147 Q345,146 342.5,140.5 Z"/>
<path fill="#84803e" d="M284,232 Q286,214 298,214 Q310,214 320,212 Q330,210 340,211 Q350,212 360,214 Q370,216 378,214 Q386,212 390,206 Q394,200 396,189 Q398,178 395,169 Q392,160 401,160 Q410,160 415,180 Q420,200 430,220 Q440,240 455,270 Q470,300 480,315 Q490,330 475,340 Q460,350 440,350 Q420,350 410,325 Q400,300 385,294 Q370,288 355,285 Q340,282 320,279.5 Q300,277 291,263.5 Q282,250 284,232 Z" clip-path="url(#terr)"/>
<path fill="#94804f" d="M373.5,250 Q375,240 386.5,238 Q398,236 406,242 Q414,248 417,259 Q420,270 417,279 Q414,288 406,290 Q398,292 391,287 Q384,282 378,271 Q372,260 373.5,250 Z" clip-path="url(#terr)"/>
<path fill="#94804f" d="M419,306 Q418,296 429,293 Q440,290 448,297 Q456,304 456,313 Q456,322 450,331 Q444,340 435,338 Q426,336 423,326 Q420,316 419,306 Z" clip-path="url(#terr)"/>
<path fill="#94804f" d="M344.5,242 Q345,236 351.5,236 Q358,236 360,242 Q362,248 357,251 Q352,254 348,251 Q344,248 344.5,242 Z" clip-path="url(#terr)"/>
<path fill="#94804f" d="M332,221 Q330,212 340,211 Q350,210 352,218 Q354,226 344,228 Q334,230 332,221 Z" clip-path="url(#terr)"/>
<path fill="#94804f" d="M302,221 Q300,214 306,215 Q312,216 314,221 Q316,226 310,227 Q304,228 302,221 Z" clip-path="url(#terr)"/>
<path fill="#84803e" d="M466.5,295.5 Q467,291 471.5,290.5 Q476,290 479.5,293 Q483,296 482.5,301 Q482,306 477,307 Q472,308 469,304 Q466,300 466.5,295.5 Z"/>
<path fill="#84803e" d="M504.5,313 Q505,308 509.5,307.5 Q514,307 516,312.5 Q518,318 517.5,323.5 Q517,329 512.5,328.5 Q508,328 506,323 Q504,318 504.5,313 Z"/>
<path fill="#84803e" d="M513,333.5 Q513,329 516.5,329.5 Q520,330 523,336 Q526,342 525.5,346.5 Q525,351 521.5,349.5 Q518,348 515.5,343 Q513,338 513,333.5 Z"/>
<path fill="#84803e" d="M535,330 Q536,322 544,320 Q552,318 557.5,322 Q563,326 565,333 Q567,340 564.5,347.5 Q562,355 556,356.5 Q550,358 544,355 Q538,352 536,345 Q534,338 535,330 Z"/>
<path fill="#84803e" d="M529.5,355.5 Q529,351 533.5,351.5 Q538,352 540,357 Q542,362 539,364.5 Q536,367 533,363.5 Q530,360 529.5,355.5 Z"/>
<path fill="#84803e" d="M583.5,299.5 Q583,291 586.5,290.5 Q590,290 590,300 Q590,310 587,309 Q584,308 583.5,299.5 Z"/>
<path fill="#ffff00" d="M334,260.5 Q334,257 340,256.5 Q346,256 350.5,257.5 Q355,259 353.5,262.5 Q352,266 346,267 Q340,268 337,266 Q334,264 334,260.5 Z"/>
<path fill="#ffc266" d="M515.5,309 Q515,302 523,302 Q531,302 531.5,309 Q532,316 524,316 Q516,316 515.5,309 Z"/>
<path fill="#ffc266" d="M540,306.5 Q540,300 548,300 Q556,300 556,306.5 Q556,313 548,313 Q540,313 540,306.5 Z"/>
<path fill="#ffc266" d="M556,316 Q556,308 562.5,308 Q569,308 569,316 Q569,324 562.5,324 Q556,324 556,316 Z"/>
<path fill="#ffc266" d="M572,299.5 Q572,294 576,294 Q580,294 580,299.5 Q580,305 576,305 Q572,305 572,299.5 Z"/>
<path fill="#ffc266" d="M521,330.5 Q521,321 527.5,321 Q534,321 534,330.5 Q534,340 527.5,340 Q521,340 521,330.5 Z"/>
<path fill="#ffc266" d="M456,297 Q456,292 462.5,292 Q469,292 469,297 Q469,302 462.5,302 Q456,302 456,297 Z"/>
<path fill="#ffc266" d="M596.4,264.4 Q596.4,258.3 603.5,258.3 Q610.6,258.3 610.6,264.4 Q610.6,270.5 603.5,270.5 Q596.4,270.5 596.4,264.4 Z"/>
<path fill="#ffc266" d="M579,269.7 Q580,264.4 589.2,265.2 Q598.5,266 598.5,275.4 Q598.5,284.7 590.2,284.7 Q582,284.7 580,279.9 Q578,275 579,269.7 Z"/>
<path fill="#ffc266" d="M610.6,272.5 Q610.6,266.4 617.7,266.4 Q624.8,266.4 624.8,272.5 Q624.8,278.6 617.7,278.6 Q610.6,278.6 610.6,272.5 Z"/>
<path fill="#ffc266" d="M622.8,250.2 Q622.8,246.2 625.8,246.2 Q628.8,246.2 628.8,250.2 Q628.8,254.3 625.8,254.3 Q622.8,254.3 622.8,250.2 Z"/>
<path fill="#ffc266" d="M624.8,239 Q624.8,236 628.9,236 Q633,236 633,239 Q633,242 628.9,242 Q624.8,242 624.8,239 Z"/>
<path fill="#ffc266" d="M637,246 Q637,242 640,242 Q643,242 643,246 Q643,250 640,250 Q637,250 637,246 Z"/>
<path fill="#ffc266" d="M571,298.9 Q571,292.8 575,292.8 Q579,292.8 579,298.9 Q579,305 575,305 Q571,305 571,298.9 Z"/>
<path fill="#ffc266" d="M628.8,279.6 Q628.8,276.6 631.9,276.6 Q635,276.6 635,279.6 Q635,282.6 631.9,282.6 Q628.8,282.6 628.8,279.6 Z"/>
<path fill="#ffc266" d="M582,281.5 Q582,280 588,280 Q594,280 594,281.5 Q594,283 588,283 Q582,283 582,281.5 Z"/>
<path fill="#ffc266" d="M540,306.2 Q540,302.5 545.2,302.5 Q550.5,302.5 550.5,306.2 Q550.5,310 545.2,310 Q540,310 540,306.2 Z"/>
<path fill="#ffc266" d="M547.5,307.8 Q547.5,302.5 553.5,302.5 Q559.5,302.5 559.5,307.8 Q559.5,313 553.5,313 Q547.5,313 547.5,307.8 Z"/>
<path fill="#ffc266" d="M556.5,313 Q556.5,308.5 561.8,308.5 Q567,308.5 567,313 Q567,317.5 561.8,317.5 Q556.5,317.5 556.5,313 Z"/>
<path fill="#ffc266" d="M570,299.5 Q570,295 573.8,295 Q577.5,295 577.5,299.5 Q577.5,304 573.8,304 Q570,304 570,299.5 Z"/>
<path fill="#ffc266" d="M519,310.8 Q519,307 522,307 Q525,307 525,310.8 Q525,314.5 522,314.5 Q519,314.5 519,310.8 Z"/>
<path fill="#ffc266" d="M523.5,329.5 Q523.5,323.5 527.2,323.5 Q531,323.5 531,329.5 Q531,335.5 527.2,335.5 Q523.5,335.5 523.5,329.5 Z"/>
<path fill="#ffc266" d="M380,104.2 Q380,93.5 388,93.5 Q396,93.5 396,104.2 Q396,115 388,115 Q380,115 380,104.2 Z"/>
<path fill="#ffc266" d="M404,158 Q404,150 412,150 Q420,150 420,158 Q420,166 412,166 Q404,166 404,158 Z"/>
<path fill="#ffc266" d="M415,189 Q415,185 420.5,185 Q426,185 426,189 Q426,193 420.5,193 Q415,193 415,189 Z"/>
<path fill="#ffc266" d="M407,165 Q407,160 413.5,160 Q420,160 420,165 Q420,170 413.5,170 Q407,170 407,165 Z"/>
<path fill="#ffc266" d="M410,205 Q410,200 418.5,200 Q427,200 427,205 Q427,210 418.5,210 Q410,210 410,205 Z"/>
<path fill="#ffc266" d="M403,192 Q403,187 408,187 Q413,187 413,192 Q413,197 408,197 Q403,197 403,192 Z"/>
<path fill="#ffc266" d="M460,283 Q460,278 465.5,278 Q471,278 471,283 Q471,288 465.5,288 Q460,288 460,283 Z"/>
<path fill="#84803e" d="M606.6,243.1 Q606.6,238 611.7,238 Q616.7,238 616.7,243.1 Q616.7,248.2 611.7,248.2 Q606.6,248.2 606.6,243.1 Z"/>
<path fill="#84803e" d="M583.1,250 Q582.3,244 587.3,243 Q592.4,242 592.4,250.2 Q592.4,258.3 588.2,257.1 Q584,256 583.1,250 Z"/>
<path fill="#84803e" d="M585.1,303 Q584.3,293 591.4,293.2 Q598.5,293.5 600.5,297.8 Q602.5,302 600.5,308 Q598.5,314 592.2,313.5 Q586,313 585.1,303 Z"/>
<path fill="#84803e" d="M638,237.2 Q638,234.5 643.5,234.5 Q649,234.5 649,237.2 Q649,240 643.5,240 Q638,240 638,237.2 Z"/>
<path fill="#84803e" d="M538.5,330 Q537,322 544.5,321.2 Q552,320.5 561,321.2 Q570,322 570,330 Q570,338 563,339 Q556,340 548,339 Q540,338 538.5,330 Z"/>
<path fill="#84803e" d="M502.5,319 Q502.5,308.5 510,308.5 Q517.5,308.5 517.5,319 Q517.5,329.5 510,329.5 Q502.5,329.5 502.5,319 Z"/>
<path fill="#84803e" d="M510,334 Q510,328 516,328 Q522,328 522,334 Q522,340 516,340 Q510,340 510,334 Z"/>
<path fill="#84803e" d="M481.5,302.5 Q481.5,298 487.5,299 Q493.5,300 493.5,303.5 Q493.5,307 487.5,307 Q481.5,307 481.5,302.5 Z"/>
<path fill="#84803e" d="M425,227 Q425,220 430,220 Q435,220 435,227 Q435,234 430,234 Q425,234 425,227 Z"/>
<path fill="#84803e" d="M466,298 Q466,291 472.5,291 Q479,291 479,298 Q479,305 472.5,305 Q466,305 466,298 Z"/>
<path fill="#ff9900" d="M526,329 Q526,328 527,328 Q528,328 528,329 Q528,330 527,330 Q526,330 526,329 Z"/>
<path fill="none" stroke="#ffff00" stroke-width="4" d="M128,22 L131,25 L131.8,30 L132.7,35.4 L135.4,39.9 L137.2,44.4 L139,49.8 L141.7,55.2 L144.4,59.6 L146.2,64.1 L148,70 L151,73.4 L154.5,79 L159,84.6 L163.5,89.1 L169.1,93.6 L174.7,95.8 L181.5,97 L182.6,101.5 L183.7,106 L188.2,110.4 L192.7,113.8 L197.2,117.2 L199.4,120 L203,124 L207,131 L208,137 L211,143 L223,151 L231,160 L239,170 L246,178 L254,186 L262,194"/>
<path fill="none" stroke="#ffff00" stroke-width="9" stroke-linecap="round" d="M128,22 L131,25 L131.8,30 L132.7,35.4 L135.4,39.9 L137.2,44.4 L139,49.8 L141.7,55.2 L144.4,59.6 L146.2,64.1 L148,70 L151,73.4 L154.5,79"/>
<rect x="0" y="0" width="800" height="393" filter="url(#noise)" clip-path="url(#tex2)" style="mix-blend-mode:overlay" opacity="0.45"/>
</g>
<g fill="none" stroke="#2a2a22" stroke-width="0.7" stroke-linejoin="round" opacity="0.85">
<path d="M112,94.4 L137,95"/>
<path d="M96,0 L96.6,6 L97,12"/>
<path d="M216,22 L218,30 L220,39 L220,55 L219.5,60 L220.5,68 L219.5,70 L221.5,76 L222.5,82 L223.5,87.3 L213.4,88.3 L213.4,92.4 L215.4,98.5 L217.4,102.5 L220.5,108.6 L222.5,114.7 L228.6,115.7 L229.6,118.7 L232.6,124.8 L234.7,130.8 L238.7,135 L244.8,137 L246,134 L250,144.3 L250,152.4 L256.2,158.5 L260.2,166.6 L266.3,172.6 L270.4,178.7 L273.4,180 L277,190.8 L282.4,198 L283.3,207 L281.5,213.3"/>
<path d="M222.5,115.7 L217.4,120.7 L214.4,126.8 L210.4,130.8 L207,137"/>
<path d="M261,145 L265,137 L269,124.8 L271.4,120 L278.5,121 L286.6,126 L298.7,128 L306.8,122 L308.8,120"/>
<path d="M338,59 L336,70 L333,80 L331,90 L329,100 L327,108 L318,112 L312,118 L308.8,120"/>
<path d="M308.8,120 L317,121 L325,124 L326,134 L327,142.3 L323,146.3 L325,152.4 L325,162.5 L329,164.5 L337,162.5 L341,158.5 L347.3,157.5 L353.4,158.5 L360,160.5 L364.3,162.8 L370,166 L376.6,168 L378.6,162"/>
<path d="M339,162.5 L335,166.6 L329,170.6 L323,172.6 L317,180.7 L315,190.9 L312.9,201 L310.9,210 L307.5,216"/>
<path d="M316.5,180 L314.7,189 L311,194.4 L309.4,199.8 L307.5,208.8 L307.5,216"/>
<path d="M283.3,199.8 L291.4,199.8 L293.2,203.4 L293.2,210.6 L298.6,212.4 L304,216 L307.5,221.4 L309.4,226.8 L313,230.4 L318.3,234 L320,237.6 L318.3,241.2 L311,243 L304,246.6 L300.4,252 L295,255.5 L287.8,259"/>
<path d="M281.5,213.3 L291.4,212.4 L295,211.5"/>
<path d="M307.5,208.8 L313,207 L318.3,208.8 L320,216 L316.5,219.6 L320,223.2"/>
<path d="M323.7,216 L329,216 L331,221.4 L327.3,226.8 L323.7,225 L323.7,216"/>
<path d="M343.5,216 L350,214.2 L356.3,212.6"/>
<path d="M336.3,225 L336.3,234 L340,239.4 L350,237.6 L358.3,236"/>
<path d="M388.6,100 L386.6,106 L376.4,110 L375.4,115.2 L380.5,116.2 L377.4,123.3 L368.3,130.4 L373.4,135.4 L375.4,140.5 L380.5,146.6 L384.5,152.6 L380.5,158.7 L377.4,164.8 L376.4,170.8 L372.4,177 L370.4,185 L368.3,190"/>
<path d="M393.6,100 L398.7,112 L397.7,119.2 L400.7,122.3 L404.8,128.3 L408.8,136.4 L417,137.4 L420,142.5 L423,148.6 L417,152.6 L410.9,156.7 L406.8,160.7 L402.8,164.8 L398.7,168.8 L396.7,175 L394.7,181 L392.6,185 L390.6,190 L388,196 L390.7,196.4"/>
<path d="M372.5,172 L370.5,178.2 L366.4,182.3 L356.3,188.3 L348.2,194.4 L346.2,200.5 L350.2,208.6 L356.3,212.6 L362.4,210.6 L364.4,218.7 L360.4,224.8 L360.4,237 L358.3,250"/>
<path d="M378.6,172 L380.6,182.3 L382.6,192.4 L382.6,198.5 L390.7,196.4 L392.8,200.5 L390.7,206.6 L392.8,212.6 L398.8,214.7 L404.9,214.7 L413,214.7 L419,216.7 L425,214.7 L429.2,218.7 L431.2,224.8 L429.2,232.9"/>
<path d="M330,218.7 L338,216.7 L346.2,214.7 L352.3,220.7 L354.3,226.8 L346.2,228.8 L336,230.8 L334,237 L330,241"/>
<path d="M362.4,226.8 L370.5,228.8 L382.6,230.8 L390.7,232.9 L394.8,235 L396.8,241 L394.8,250"/>
<path d="M419,216.7 L421,224.8 L419,237 L415,245 L411,250"/>
<path d="M324.3,220 L322.3,230 L320.2,238.2 L312.1,246.3 L306,252.4 L300,254.4"/>
<path d="M332.4,266.6 L344.5,262.5 L352.6,260.5 L360.7,262.5 L368.8,266.6 L377,268.6 L385,268.6 L387,276.7 L385,284.8 L381,292.9 L377,297"/>
<path d="M360.7,228.1 L358.7,236.2 L352.6,248.3 L350.6,256.4 L352.6,260.5"/>
<path d="M360.7,228 L370.9,230 L381,232 L389,236.2 L397.2,234.2 L403.2,238.2 L407.3,242.3"/>
<path d="M381,250.4 L385,246.3 L391,242.3 L395,246.3 L393,254.4 L387,260.5 L383,266.6 L381,260.5 L381,250.4"/>
<path d="M387,262.5 L395,264.5 L405.3,266.6 L411.3,268.6 L413.4,276.7 L407.3,280.7 L405.3,286.8 L401.2,292.9 L397.2,297"/>
<path d="M390,240 L398,236 L404.2,246.2 L402.1,258.3 L410.2,266.4 L412.3,270.5"/>
<path d="M408,230 L410,236 L420,242 L422.4,252.3 L424.4,260.4 L426.4,270.5 L420.4,274.5 L420.4,280.6 L430.5,278.6 L436.6,280.6 L442.6,276.6 L446.7,280.6 L450.7,284.7 L452.8,290.7 L456.8,300.9 L462.9,305 L470,312 L478,318 L488,324 L496,326 L506,321"/>
<path d="M406.2,278.6 L408.2,286.7 L410.2,292.8 L416.3,298.8 L426.4,300.9 L434.5,302.9 L442.6,304.9 L448.7,307 L456.8,300.9"/>
<path d="M397.2,297 L400,305 L404,312 L406,320 L404.8,330 L403,337"/>
<path d="M488,324 L494,330 L500,340 L504,348 L506,350"/>
<path d="M506,321 L512,314 L516,308 L520,306"/>
<path d="M506,321 L516,324 L526,322 L536,320 L546,318 L556,316 L566,314 L570,314.5"/>
<path d="M516,308 L526,306 L536,306 L546,308 L556,310 L566,312"/>
<path d="M545,300 L550,305 L556,308"/>
<path d="M590.4,256.3 L596,264 L604.5,276.6 L606.6,311"/>
<path d="M604.5,276.6 L618.7,264.4 L628.8,260.4 L634.9,254.3 L637,242.1 L638,234"/>
<path d="M300.4,239.4 L302.2,246.6 L307.5,253.7 L309.4,260"/>
<path d="M320.2,286.8 L326.3,280.7 L332.4,276"/>
<path d="M377,297 L374,305 L378,312"/>
</g>
<use href="#mxp" fill="none" stroke="#1a1a1a" stroke-width="0.8"/>

<g stroke="#15151a" stroke-width="0.7">
<ellipse cx="29" cy="72" rx="2.8" ry="6" fill="#3d3c2a" transform="rotate(-10 29 72)"/>
<ellipse cx="126.8" cy="66" rx="5.5" ry="1.5" fill="#a89270" transform="rotate(50 126.8 66)"/>
<ellipse cx="147" cy="72.5" rx="2.8" ry="4.8" fill="#c49a5c" transform="rotate(-15 147 72.5)"/>
<ellipse cx="90" cy="89.5" rx="1.6" ry="3.4" fill="#9c8256" transform="rotate(-10 90 89.5)"/>
</g>

</svg>

<div class="t" id="t1" style="top:2.5px;letter-spacing:0.15px">Pronóstico de</div>
<div class="t" id="t2" style="top:29.5px;letter-spacing:0.34px">Temperaturas Máximas</div>
<div class="t" id="t3" style="top:57px;letter-spacing:-0.39px">22 de octubre  de 2025</div>

<div class="leg-t">Temperatura</div>
<svg style="position:absolute;left:15.5px;top:353.5px" width="286" height="12" viewBox="0 0 286 12"><rect x="0.5" y="0.5" width="31.6" height="10.5" fill="#ffff00" stroke="#3a2a10" stroke-opacity="0.55" stroke-width="0.8"/><rect x="32.1" y="0.5" width="31.6" height="10.5" fill="#ffc266" stroke="#3a2a10" stroke-opacity="0.55" stroke-width="0.8"/><rect x="63.7" y="0.5" width="31.6" height="10.5" fill="#ff9900" stroke="#3a2a10" stroke-opacity="0.55" stroke-width="0.8"/><rect x="95.3" y="0.5" width="31.6" height="10.5" fill="#ff6600" stroke="#3a2a10" stroke-opacity="0.55" stroke-width="0.8"/><rect x="126.9" y="0.5" width="31.6" height="10.5" fill="#ff0000" stroke="#3a2a10" stroke-opacity="0.55" stroke-width="0.8"/><rect x="158.5" y="0.5" width="31.6" height="10.5" fill="#cc0000" stroke="#3a2a10" stroke-opacity="0.55" stroke-width="0.8"/><rect x="190.1" y="0.5" width="31.6" height="10.5" fill="#990033" stroke="#3a2a10" stroke-opacity="0.55" stroke-width="0.8"/><rect x="221.7" y="0.5" width="31.6" height="10.5" fill="#660033" stroke="#3a2a10" stroke-opacity="0.55" stroke-width="0.8"/><rect x="253.3" y="0.5" width="31.6" height="10.5" fill="#ff3399" stroke="#3a2a10" stroke-opacity="0.55" stroke-width="0.8"/></svg>
<div class="lab" style="left:8px">30</div>
<div class="lab" style="left:35px">32.5</div>
<div class="lab" style="left:71px">35</div>
<div class="lab" style="left:98px">37.5</div>
<div class="lab" style="left:135px">40</div>
<div class="lab" style="left:161px">42.5</div>
<div class="lab" style="left:198px">45</div>
<div class="lab" style="left:225px">47.5</div>
<div class="lab" style="left:261px">50</div>
<div class="lab" style="left:278.5px;letter-spacing:0.3px">°C</div>

<div id="foot"></div>
<div id="pink"></div>
<svg id="logo" viewBox="0 0 354 445">
<g fill="none" stroke-linecap="round">
<path d="M214,32 C150,95 56,172 55,265 C54,345 120,402 200,405 C250,405 288,388 304,368" stroke="#3a72b6" stroke-width="30"/>
<path d="M214,94 C165,140 92,198 90,265 C88,325 125,362 175,378" stroke="#4279bd" stroke-width="24"/>
<path d="M206,150 C170,182 122,222 121,268 C120,305 138,330 165,345" stroke="#5087c6" stroke-width="17"/>
</g>
<path fill="#c9a162" d="M118,332 C118,300 132,265 160,240 C185,218 215,195 240,185 C258,179 276,185 287,200 L292,213 L273,211 L263,223 C259,238 263,250 277,258 L302,268 L318,287 L292,283 C272,281 254,279 240,286 C215,301 180,320 150,332 Z"/>
<path fill="#3a75b8" d="M120,336 Q160,318 200,336 T296,330 L306,362 Q256,410 190,410 Q140,400 120,372 Z"/>
<g fill="none" stroke="#fff" stroke-linecap="round">
<path d="M135,348 Q168,334 200,348 T262,346 T302,340" stroke-width="8"/>
<path d="M145,370 Q176,357 208,371 T272,368" stroke-width="7"/>
</g>
<path fill="#1d5699" d="M140,386 Q200,374 275,384 Q240,410 190,410 Q160,404 140,386 Z"/>
</svg>
<div class="cona">CONAGUA</div>
<div class="com">COMISIÓN NACIONAL DEL AGUA</div>
</body></html>
